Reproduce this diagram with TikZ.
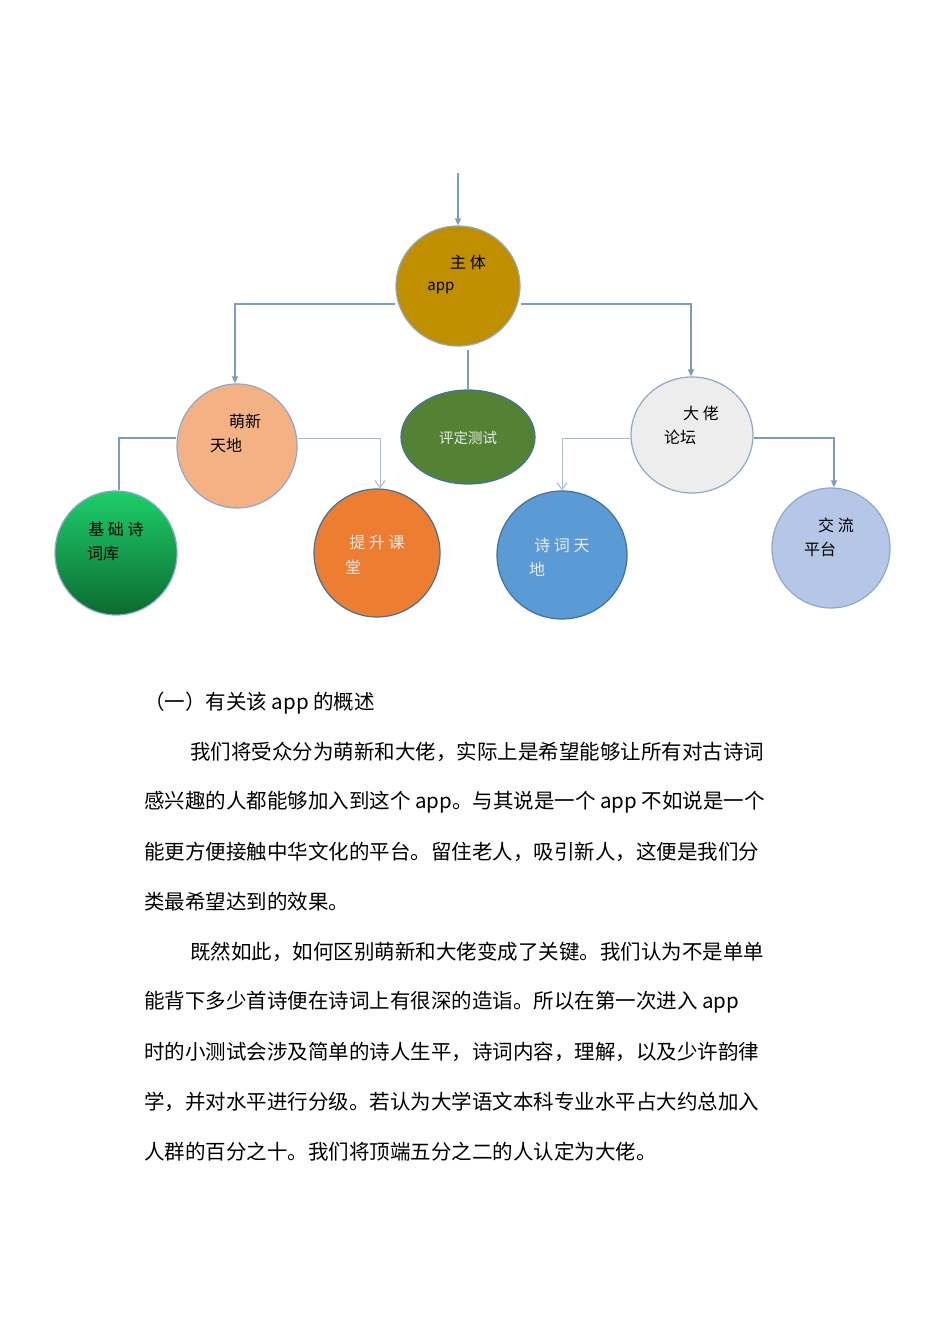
\documentclass[tikz,border=0pt]{standalone}
\usepackage{fontspec}
\setmainfont{Noto Sans CJK SC}
\usetikzlibrary{shapes.geometric,arrows.meta}
\definecolor{ln}{HTML}{7F9CC0}
\definecolor{bd}{HTML}{8EA9C8}
\definecolor{bd2}{HTML}{41719C}
\definecolor{cA}{HTML}{BF8F00}
\definecolor{cB}{HTML}{F4B183}
\definecolor{cC}{HTML}{548235}
\definecolor{cD}{HTML}{EDEDED}
\definecolor{cE}{HTML}{1ECF6A}
\definecolor{cE2}{HTML}{0B6B30}
\definecolor{cF}{HTML}{ED7D31}
\definecolor{cG}{HTML}{5B9BD5}
\definecolor{cH}{HTML}{B4C7E7}
\tikzset{
 bub/.style={ellipse,draw=bd,line width=1.2pt,inner sep=0pt},
 lab/.style={font=\fontsize{16}{16}\selectfont,inner sep=0pt},
 wl/.style={lab,text=white!92!black},
 con/.style={draw=ln,line width=1.5pt},
 ar/.style={con,-{Triangle[length=7pt,width=6pt]}},
 oar/.style={draw=ln!70,line width=1pt,-{Straight Barb[length=7pt,width=10pt]}},
 body/.style={anchor=west,font=\fontsize{20.5}{20.5}\selectfont,inner sep=0pt}
}
\begin{document}
\begin{tikzpicture}[x=1pt,y=-1pt]
\useasboundingbox (0,0) rectangle (950,1344);
\fill[white] (0,0) rectangle (950,1344);
\node[bub,fill=cA,minimum width=124pt,minimum height=120pt] (zt) at (458,286) {};
\node[bub,fill=cB,minimum width=120pt,minimum height=124pt] (mx) at (237,446) {};
\node[bub,draw=bd2,fill=cC,minimum width=134pt,minimum height=94pt] (pd) at (468,437) {};
\node[bub,fill=cD,minimum width=122pt,minimum height=116pt] (dl) at (692,435) {};
\node[bub,top color=cE,bottom color=cE2,minimum width=122pt,minimum height=124pt] (jc) at (116,553) {};
\node[bub,draw=bd2,fill=cF,minimum width=126pt,minimum height=128pt] (ts) at (377,553) {};
\node[bub,draw=bd2,fill=cG,minimum width=130pt,minimum height=128pt] (sc) at (562,555) {};
\node[bub,fill=cH,minimum width=118pt,minimum height=120pt] (jl) at (831,548) {};
\coordinate (top) at (458,173);
\draw[ar] (top) -- (zt.north);
\draw[ar] (zt.west |- 0,304) -- (235,304) -- (mx.north -| 235,0);
\draw[ar] (zt.east |- 0,304) -- (691,304) -- (dl.north -| 691,0);
\draw[con,line width=1.2pt] (468,350) -- (pd.north);
\draw[con,line width=1.2pt] (mx.west |- 0,438) -- (119,438) -- (jc.north -| 119,0);
\draw[oar] (mx.east |- 0,438) -- (380,438) -- (ts.north -| 380,0);
\draw[oar] (dl.west |- 0,438) -- (562,438) -- (sc.north);
\draw[ar] (dl.east |- 0,438) -- (834,438) -- (jl.north -| 834,0);
\node[lab] (t1) at (468,262) {主 体};
\node[lab,font=\fontsize{15}{15}\selectfont] (t2) at (441,288) {app};
\node[lab] (t3) at (245,421) {萌新};
\node[lab] (t4) at (226,445) {天地};
\node[wl,font=\fontsize{14.5}{14.5}\selectfont] (t5) at (468,438) {评定测试};
\node[lab] (t6) at (701,413) {大 佬};
\node[lab] (t7) at (680,437) {论坛};
\node[lab] (t8) at (116,529) {基 础 诗};
\node[lab] (t9) at (103,553) {词库};
\node[wl] (t10) at (377,542) {提 升 课};
\node[wl] (t11) at (353,567) {堂};
\node[wl] (t12) at (562,545) {诗 词 天};
\node[wl] (t13) at (537,569) {地};
\node[lab] (t14) at (836,525) {交 流};
\node[lab] (t15) at (820,549) {平台};
\node[body] (b0) at (144,703) {（一）有关该 app 的概述};
\node[body] (b1) at (190,752) {我们将受众分为萌新和大佬，实际上是希望能够让所有对古诗词};
\node[body] (b2) at (144,802) {感兴趣的人都能够加入到这个 app。与其说是一个 app 不如说是一个};
\node[body] (b3) at (144,852) {能更方便接触中华文化的平台。留住老人，吸引新人，这便是我们分};
\node[body] (b4) at (144,902) {类最希望达到的效果。};
\node[body] (b5) at (190,952) {既然如此，如何区别萌新和大佬变成了关键。我们认为不是单单};
\node[body] (b6) at (144,1002) {能背下多少首诗便在诗词上有很深的造诣。所以在第一次进入 app};
\node[body] (b7) at (144,1052) {时的小测试会涉及简单的诗人生平，诗词内容，理解，以及少许韵律};
\node[body] (b8) at (144,1102) {学，并对水平进行分级。若认为大学语文本科专业水平占大约总加入};
\node[body] (b9) at (144,1152) {人群的百分之十。我们将顶端五分之二的人认定为大佬。};
\end{tikzpicture}
\end{document}
